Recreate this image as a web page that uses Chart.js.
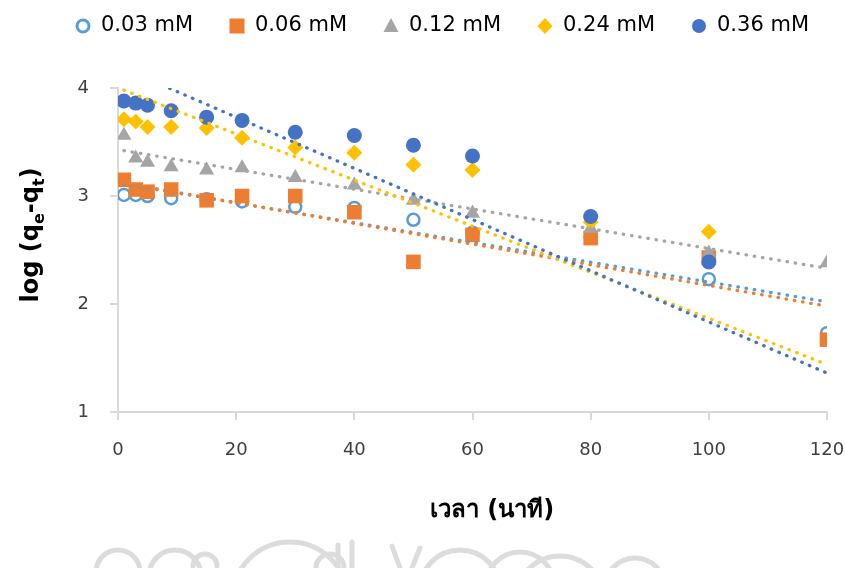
<!DOCTYPE html>
<html lang="th">
<head>
<meta charset="utf-8">
<title>log (qe-qt) vs เวลา</title>
<script src="https://cdn.jsdelivr.net/npm/chart.js@4.4.1/dist/chart.umd.min.js"></script>
<style>
  html, body { margin: 0; padding: 0; background: #fff; }
  #wrap { position: relative; width: 845px; height: 568px; }
</style>
</head>
<body>
<div id="wrap"><canvas id="kinetics"></canvas></div>
<script>
// sampling times (min)
const timeMin = [1, 3, 5, 9, 15, 21, 30, 40, 50, 60, 80, 100, 120];

// log(qe - qt) for each starting concentration
const logQ003 = [3.01, 3.01, 3.00, 2.98, 2.97, 2.95, 2.90, 2.89, 2.78, 2.66, 2.62, 2.23, 1.73];
const logQ006 = [3.15, 3.06, 3.04, 3.06, 2.96, 3.00, 3.00, 2.85, 2.39, 2.64, 2.61, 2.43, 1.67];
const logQ012 = [3.56, 3.35, 3.31, 3.27, 3.24, 3.26, 3.17, 3.10, 2.96, 2.84, 2.70, 2.47, 2.38];
const logQ024 = [3.71, 3.69, 3.64, 3.64, 3.63, 3.54, 3.45, 3.40, 3.29, 3.24, 2.76, 2.67];
const logQ036 = [3.88, 3.86, 3.84, 3.79, 3.73, 3.70, 3.59, 3.56, 3.47, 3.37, 2.81, 2.39];

// linear trendlines: value at first and last time
const trendX = [1, 120];
const trend003 = [3.11, 2.02];
const trend006 = [3.12, 1.98];
const trend012 = [3.42, 2.33];
const trend024 = [3.98, 1.44];
const trend036 = [4.18, 1.36];

const seriesNames = ['0.03 mM', '0.06 mM', '0.12 mM', '0.24 mM', '0.36 mM'];
const xTicks = [0, 20, 40, 60, 80, 100, 120];
const yTicks = [1, 2, 3, 4];

const FONT = "'DejaVu Sans', 'Noto Sans', sans-serif";
const AXIS_GRAY = '#d9d9d9';

// marker look per series (office palette)
const looks = [
  { color: '#5B9BD5', style: 'circle',   r: 6,    fill: 'rgba(0,0,0,0)', bw: 2.5 },
  { color: '#ED7D31', style: 'rect',     r: 10.3, fill: '#ED7D31', bw: 0 },
  { color: '#A5A5A5', style: 'triangle', r: 8.7,  fill: '#A5A5A5', bw: 0 },
  { color: '#FFC000', style: 'rectRot',  r: 8,    fill: '#FFC000', bw: 0 },
  { color: '#4472C4', style: 'circle',   r: 7.5,  fill: '#4472C4', bw: 0 },
];

const pts = (xs, ys) => ys.map((y, i) => ({ x: xs[i], y: y }));

const values = [logQ003, logQ006, logQ012, logQ024, logQ036];
const trends = [trend003, trend006, trend012, trend024, trend036];

const datasets = [];
values.forEach((v, i) => {
  const lk = looks[i];
  datasets.push({
    label: seriesNames[i],
    data: pts(timeMin, v),
    pointStyle: lk.style,
    pointRadius: lk.r,
    pointHoverRadius: lk.r,
    pointBackgroundColor: lk.fill,
    pointBorderColor: lk.color,
    pointBorderWidth: lk.bw,
    showLine: false,
    order: 20 - i
  });
});
trends.forEach((t, i) => {
  datasets.push({
    label: seriesNames[i] + ' trend',
    data: pts(trendX, t),
    showLine: true,
    borderColor: looks[i].color,
    borderWidth: 3.3,
    borderDash: [0.5, 7.8],
    borderCapStyle: 'round',
    pointRadius: 0,
    fill: false,
    order: 10 - i
  });
});

// faint ornament along the bottom edge
function drawOrnament(ctx) {
  ctx.save();
  ctx.beginPath();
  ctx.rect(0, 538, 845, 30);
  ctx.clip();
  ctx.strokeStyle = '#dcdcdc';
  ctx.lineWidth = 5;
  ctx.lineCap = 'round';
  const arcs = [
    [118, 572, 22], [175, 576, 26], [205, 566, 12], [290, 600, 58],
    [330, 568, 14], [460, 590, 40], [520, 586, 34], [560, 600, 44], [635, 588, 30]
  ];
  arcs.forEach(a => {
    ctx.beginPath();
    ctx.arc(a[0], a[1], a[2], Math.PI, Math.PI * 2);
    ctx.stroke();
  });
  [[338, 545, 338, 568], [352, 542, 352, 568], [392, 546, 400, 568], [420, 548, 412, 568]].forEach(l => {
    ctx.beginPath();
    ctx.moveTo(l[0], l[1]);
    ctx.lineTo(l[2], l[3]);
    ctx.stroke();
  });
  ctx.restore();
}

// legend row, axis titles
const decorations = {
  id: 'decorations',
  beforeDraw(chart) {
    drawOrnament(chart.ctx);
  },
  afterDraw(chart) {
    const ctx = chart.ctx;
    ctx.save();

    // legend
    const y0 = 26;
    seriesNames.forEach((name, i) => {
      const cx = 83 + i * 154;
      const lk = looks[i];
      ctx.beginPath();
      if (lk.style === 'circle') {
        ctx.arc(cx, y0, i === 0 ? 6 : 7, 0, Math.PI * 2);
      } else if (lk.style === 'rect') {
        ctx.rect(cx - 7.5, y0 - 7.5, 15, 15);
      } else if (lk.style === 'triangle') {
        ctx.moveTo(cx, y0 - 8);
        ctx.lineTo(cx + 7.5, y0 + 6);
        ctx.lineTo(cx - 7.5, y0 + 6);
        ctx.closePath();
      } else {
        ctx.moveTo(cx, y0 - 8);
        ctx.lineTo(cx + 7.5, y0);
        ctx.lineTo(cx, y0 + 8);
        ctx.lineTo(cx - 7.5, y0);
        ctx.closePath();
      }
      if (i === 0) {
        ctx.lineWidth = 3;
        ctx.strokeStyle = lk.color;
        ctx.stroke();
      } else {
        ctx.fillStyle = lk.fill;
        ctx.fill();
      }
      ctx.fillStyle = '#000';
      ctx.font = '21px ' + FONT;
      ctx.textBaseline = 'middle';
      ctx.textAlign = 'left';
      ctx.fillText(name, cx + 18, y0);
    });

    // x title
    ctx.fillStyle = '#000';
    ctx.font = 'bold 24px ' + FONT;
    ctx.textAlign = 'center';
    ctx.textBaseline = 'middle';
    ctx.fillText('เวลา (นาที)', 492, 511);

    // y title with subscripts, rotated
    const main = 'bold 24px ' + FONT;
    const sub = 'bold 16px ' + FONT;
    const parts = [
      ['log (q', main, 0], ['e', sub, 6], ['-q', main, 0], ['t', sub, 6], [')', main, 0]
    ];
    let total = 0;
    parts.forEach(p => { ctx.font = p[1]; total += ctx.measureText(p[0]).width; });
    ctx.translate(38, 235);
    ctx.rotate(-Math.PI / 2);
    ctx.textAlign = 'left';
    ctx.textBaseline = 'alphabetic';
    let x = -total / 2;
    parts.forEach(p => {
      ctx.font = p[1];
      ctx.fillText(p[0], x, p[2]);
      x += ctx.measureText(p[0]).width;
    });
    ctx.restore();
  }
};

new Chart(document.getElementById('kinetics'), {
  type: 'scatter',
  data: { datasets: datasets },
  options: {
    responsive: true,
    maintainAspectRatio: false,
    animation: false,
    layout: { padding: { top: 88, right: 0, left: 0, bottom: 0 } },
    plugins: {
      legend: { display: false },
      tooltip: { enabled: false }
    },
    scales: {
      x: {
        type: 'linear',
        min: 0,
        max: 120,
        afterBuildTicks: s => { s.ticks = xTicks.map(v => ({ value: v })); },
        afterFit: s => {
          s.height = 156;
          s.paddingLeft = 0;
          s.paddingRight = 18;
        },
        ticks: { padding: 20, color: '#404040', font: { family: FONT, size: 18 } },
        grid: { drawOnChartArea: false, drawTicks: true, tickLength: 8, color: AXIS_GRAY, lineWidth: 2 },
        border: { display: true, color: AXIS_GRAY, width: 2 }
      },
      y: {
        min: 1,
        max: 4,
        afterBuildTicks: s => { s.ticks = yTicks.map(v => ({ value: v })); },
        afterFit: s => { s.width = 118; },
        ticks: { padding: 21, color: '#404040', font: { family: FONT, size: 18 } },
        grid: { drawOnChartArea: false, drawTicks: true, tickLength: 8, color: AXIS_GRAY, lineWidth: 2 },
        border: { display: true, color: AXIS_GRAY, width: 2 }
      }
    }
  },
  plugins: [decorations]
});
</script>
</body>
</html>
